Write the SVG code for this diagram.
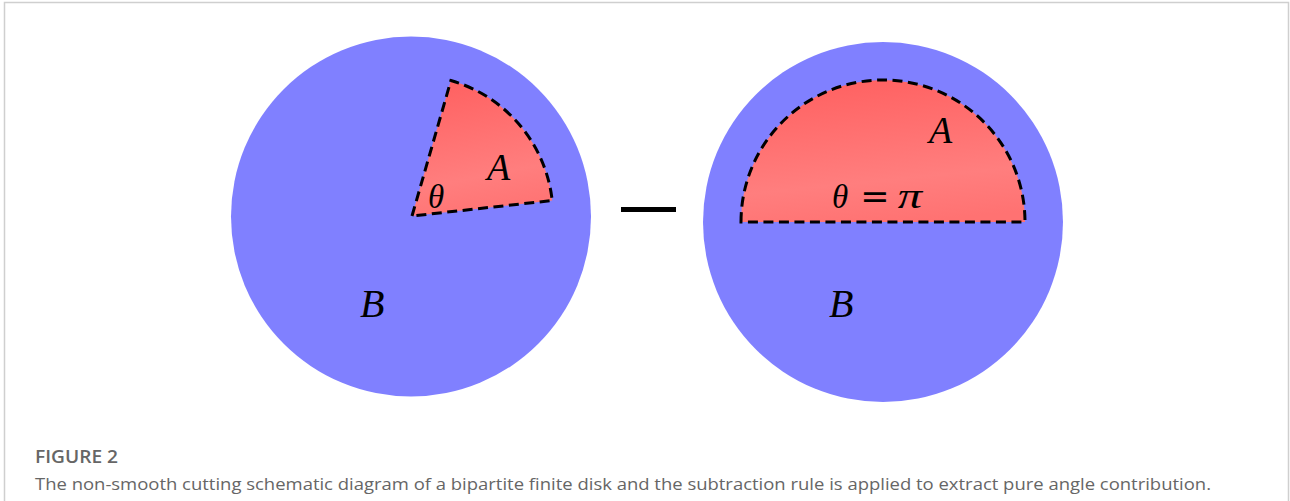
<svg xmlns="http://www.w3.org/2000/svg" width="1290" height="501" viewBox="0 0 1290 501">
<defs>
<linearGradient id="red" x1="0.4" y1="0" x2="0.6" y2="1">
<stop offset="0" stop-color="#ff6262"/>
<stop offset="0.7" stop-color="#ff7e7e"/>
<stop offset="1" stop-color="#ff7272"/>
</linearGradient>
</defs>
<style>
.disk{fill:#8080ff}
.region{fill:url(#red);stroke:#000;stroke-width:3;stroke-dasharray:10 5.5}
.math{font-family:"Liberation Serif","DejaVu Serif",serif;font-style:italic;fill:#000}
.op{font-family:"DejaVu Serif","Liberation Serif",serif;font-style:normal;fill:#000}
.title{font-family:"Open Sans","Noto Sans",sans-serif;font-weight:600;font-size:18px;fill:#666}
.cap{font-family:"Open Sans","Noto Sans",sans-serif;font-size:17px;fill:#666}
</style>
<rect x="4.5" y="2.5" width="1284" height="540" fill="#fff" stroke="#cfcfcf" stroke-width="1.5"/>
<g id="left-disk">
<circle class="disk" cx="411" cy="216.5" r="180"/>
<path class="region" d="M412,216 L450.9,80.5 A141,141 0 0 1 552.2,200.5 Z"/>
<text class="math" x="428" y="208" font-size="33">θ</text>
<text class="math" x="487" y="180" font-size="38">A</text>
<text class="math" x="360" y="317" font-size="40">B</text>
</g>
<g id="minus">
<rect x="621" y="207" width="55" height="5" fill="#000"/>
</g>
<g id="right-disk">
<circle class="disk" cx="883" cy="222" r="180"/>
<path class="region" d="M741,222 A142,142 0 0 1 1025,222 Z"/>
<text class="math" x="832" y="208" font-size="33">θ</text>
<text class="op" x="875" y="208" font-size="35" text-anchor="middle">=</text>
<text class="math" x="910" y="208" font-size="36" text-anchor="middle" transform="translate(910 0) scale(1.35 1) translate(-910 0)">π</text>
<text class="math" x="929" y="143" font-size="38">A</text>
<text class="math" x="829" y="317" font-size="40">B</text>
</g>
<g id="caption">
<text class="title" x="35" y="463" textLength="83" lengthAdjust="spacingAndGlyphs">FIGURE 2</text>
<text class="cap" x="35" y="490" textLength="1176" lengthAdjust="spacingAndGlyphs">The non-smooth cutting schematic diagram of a bipartite finite disk and the subtraction rule is applied to extract pure angle contribution.</text>
</g>
</svg>
